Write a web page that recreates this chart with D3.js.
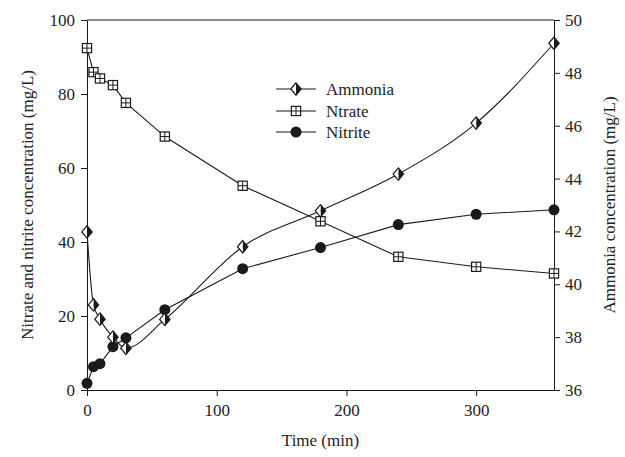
<!DOCTYPE html>
<html>
<head>
<meta charset="utf-8">
<script src="https://cdn.jsdelivr.net/npm/d3@7"></script>
<style>
  html, body { margin: 0; padding: 0; background: #fff; }
  svg { display: block; }
  text { font-family: "Liberation Serif", "Times New Roman", serif; fill: #222; }
</style>
</head>
<body>
<svg id="chart" width="625" height="457"></svg>
<script>
// ---- data ----
const time = [0, 5, 10, 20, 30, 60, 120, 180, 240, 300, 360];
const nitrate = [92.4, 85.9, 84.2, 82.4, 77.6, 68.5, 55.2, 45.6, 36.0, 33.3, 31.5];
const nitrite = [1.8, 6.3, 7.1, 11.7, 14.1, 21.7, 32.8, 38.5, 44.7, 47.5, 48.7];
const ammonia = [41.98, 39.22, 38.68, 38.0, 37.58, 38.67, 41.42, 42.78, 44.17, 46.1, 49.12];
const xTicks = [0, 100, 200, 300];
const yLeftTicks = [0, 20, 40, 60, 80, 100];
const yRightTicks = [36, 38, 40, 42, 44, 46, 48, 50];
const legendLabels = ["Ammonia", "Ntrate", "Nitrite"];

// ---- layout ----
const svg = d3.select("#chart");
const L = 87, R = 554, T = 20, B = 390;
const FS = 17;
const x = d3.scaleLinear().domain([0, 360]).range([L, R]);
const yL = d3.scaleLinear().domain([0, 100]).range([B, T]);
const yR = d3.scaleLinear().domain([36, 50]).range([B, T]);
const ink = "#1a1a1a";

// frame top
svg.append("line").attr("x1", L).attr("x2", R).attr("y1", T).attr("y2", T)
  .attr("stroke", ink).attr("stroke-width", 1);

function styleAxis(g) {
  g.selectAll("path").attr("stroke", ink).attr("stroke-width", 1);
  g.selectAll("line").attr("stroke", ink).attr("stroke-width", 1);
  g.selectAll("text").attr("font-family", "Liberation Serif, serif").attr("font-size", FS).attr("fill", "#222");
}

svg.append("g").attr("transform", `translate(0,${B})`)
  .call(d3.axisBottom(x).tickValues(xTicks).tickSize(6).tickSizeOuter(0).tickPadding(8))
  .call(styleAxis);
svg.append("g").attr("transform", `translate(${L},0)`)
  .call(d3.axisLeft(yL).tickValues(yLeftTicks).tickSize(6).tickSizeOuter(0).tickPadding(6))
  .call(styleAxis);
svg.append("g").attr("transform", `translate(${R},0)`)
  .call(d3.axisRight(yR).tickValues(yRightTicks).tickSize(6).tickSizeOuter(0).tickPadding(5))
  .call(styleAxis);

// axis titles
svg.append("text").attr("x", (L + R) / 2).attr("y", 446).attr("text-anchor", "middle")
  .attr("font-size", FS).text("Time (min)");
svg.append("text").attr("transform", `translate(29,${(T + B) / 2}) rotate(-90)`)
  .attr("text-anchor", "middle").attr("dominant-baseline", "middle")
  .attr("font-size", FS).text("Nitrate and nitrite concentration (mg/L)");
svg.append("text").attr("transform", `translate(611,${(T + B) / 2}) rotate(-90)`)
  .attr("text-anchor", "middle").attr("dominant-baseline", "middle")
  .attr("font-size", FS).text("Ammonia concentration (mg/L)");

// ---- lines ----
const lineL = d3.line().x((d, i) => x(time[i])).y(d => yL(d));
const lineAmm = d3.line().x((d, i) => x(time[i])).y(d => yR(d)).curve(d3.curveMonotoneX);

svg.append("path").datum(nitrate).attr("d", lineL).attr("fill", "none").attr("stroke", ink).attr("stroke-width", 1.1);
svg.append("path").datum(nitrite).attr("d", lineL).attr("fill", "none").attr("stroke", ink).attr("stroke-width", 1.1);
svg.append("path").datum(ammonia).attr("d", lineAmm).attr("fill", "none").attr("stroke", ink).attr("stroke-width", 1.1);

// ---- markers ----
function diamond(g, cx, cy) {
  const w = 5.2, h = 6.2;
  g.append("path").attr("d", `M${cx},${cy - h}L${cx + w},${cy}L${cx},${cy + h}Z`).attr("fill", ink);
  g.append("path").attr("d", `M${cx},${cy - h}L${cx - w},${cy}L${cx},${cy + h}Z`).attr("fill", "#fff");
  g.append("path").attr("d", `M${cx},${cy - h}L${cx + w},${cy}L${cx},${cy + h}L${cx - w},${cy}Z`)
    .attr("fill", "none").attr("stroke", ink).attr("stroke-width", 1.2);
}
function boxCross(g, cx, cy) {
  const s = 4.6;
  g.append("rect").attr("x", cx - s).attr("y", cy - s).attr("width", 2 * s).attr("height", 2 * s)
    .attr("fill", "#fff").attr("stroke", ink).attr("stroke-width", 1.2);
  g.append("path").attr("d", `M${cx - s},${cy}H${cx + s}M${cx},${cy - s}V${cy + s}`)
    .attr("stroke", ink).attr("stroke-width", 1);
}
function dot(g, cx, cy) {
  g.append("circle").attr("cx", cx).attr("cy", cy).attr("r", 5.5).attr("fill", ink);
}

const mk = svg.append("g");
nitrate.forEach((v, i) => boxCross(mk, x(time[i]), yL(v)));
nitrite.forEach((v, i) => dot(mk, x(time[i]), yL(v)));
ammonia.forEach((v, i) => diamond(mk, x(time[i]), yR(v)));

// ---- legend ----
const lg = svg.append("g");
const drawers = [diamond, boxCross, dot];
const rowsY = [89, 111, 132];
legendLabels.forEach((lab, i) => {
  const yy = rowsY[i];
  lg.append("line").attr("x1", 276).attr("x2", 316).attr("y1", yy).attr("y2", yy)
    .attr("stroke", ink).attr("stroke-width", 1.1);
  drawers[i](lg, 296, yy);
  lg.append("text").attr("x", 326).attr("y", yy).attr("dominant-baseline", "central")
    .attr("font-size", FS).text(lab);
});
</script>
</body>
</html>
